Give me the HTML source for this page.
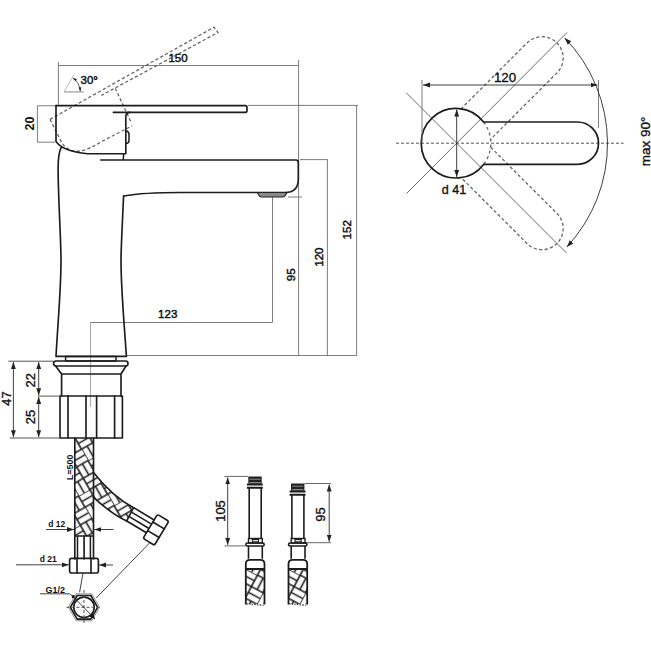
<!DOCTYPE html>
<html><head><meta charset="utf-8">
<style>
html,body{margin:0;padding:0;background:#fff;width:651px;height:651px;overflow:hidden}
svg{display:block}
.k{stroke:#1c1c1c;stroke-width:1.65;fill:none;stroke-linejoin:round;stroke-linecap:round}
.m{stroke:#1c1c1c;stroke-width:1.5;fill:none;stroke-linejoin:round}
.t{stroke:#6e6e6e;stroke-width:0.9;fill:none}
.c{stroke:#2a2a2a;stroke-width:0.9;fill:none}
.d{stroke:#666;stroke-width:1.3;stroke-dasharray:3.2 2.3;fill:none}
.cl{stroke:#555;stroke-width:1;stroke-dasharray:3 2;fill:none}
text{font-family:"Liberation Sans",sans-serif;fill:#111}
.n{font-size:11.5px;stroke:#111;stroke-width:0.45}
.b{font-size:12px;font-weight:bold}
.s{stroke:#111;stroke-width:0.35}
</style></head>
<body>
<svg width="651" height="651" viewBox="0 0 651 651">
<defs>
  <marker id="ar" viewBox="0 0 10 10" refX="10" refY="5" markerWidth="7" markerHeight="7" orient="auto-start-reverse" markerUnits="userSpaceOnUse">
    <path d="M0,1.5 L10,5 L0,8.5 Z" fill="#222"/>
  </marker>
  <marker id="arm" viewBox="0 0 10 10" refX="10" refY="5" markerWidth="5.5" markerHeight="5.5" orient="auto-start-reverse" markerUnits="userSpaceOnUse"><path d="M0,1 L10,5 L0,9 Z" fill="#111"/></marker>
  <marker id="ars" viewBox="0 0 10 10" refX="10" refY="5" markerWidth="4" markerHeight="4" orient="auto-start-reverse" markerUnits="userSpaceOnUse"><path d="M0,1.5 L10,5 L0,8.5 Z" fill="#222"/></marker>
  <pattern id="weave" width="26" height="26" patternUnits="userSpaceOnUse" patternTransform="translate(75,438) rotate(-30)">
    <path d="M0,0 H13 M0,6.5 H13 M0,13 H13 M13,13 H26 M13,19.5 H26 M13,26 H26 M13,0 V13 M19.5,0 V13 M26,0 V13 M0,13 V26 M6.5,13 V26 M13,13 V26 M0,0 V13 M13,0 H26" stroke="#1c1c1c" stroke-width="1.6" fill="none"/>
  </pattern>
  <pattern id="weave2" width="26" height="26" patternUnits="userSpaceOnUse" patternTransform="translate(246,569) rotate(28)">
    <path d="M0,0 H13 M0,6.5 H13 M0,13 H13 M13,13 H26 M13,19.5 H26 M13,26 H26 M13,0 V13 M19.5,0 V13 M26,0 V13 M0,13 V26 M6.5,13 V26 M13,13 V26 M0,0 V13 M13,0 H26" stroke="#1c1c1c" stroke-width="1.6" fill="none"/>
  </pattern>
</defs>

<!-- ===== SIDE VIEW ===== -->
<!-- dimension lines top -->
<path class="t" d="M58.4,62 V104.6 M58.4,65.5 H298.6 M298.6,60 V355.6 M248,105.4 H358 M356.6,105.4 V355.6 M300,159.6 H328 M327.4,159.6 V355.6 M288,197 H302 M272.5,192.5 V322.5 H90.5 M126.4,355.5 H357"/>
<path d="M90.5,322.5 V407" stroke="#aaa" stroke-width="1" fill="none"/>
<text class="n" x="178" y="62.3" text-anchor="middle">150</text>
<text class="n" transform="translate(295,274.8) rotate(-90)" text-anchor="middle">95</text>
<text class="n" transform="translate(322.6,257.1) rotate(-90)" text-anchor="middle">120</text>
<text class="n" transform="translate(351.2,229.8) rotate(-90)" text-anchor="middle">152</text>
<text class="n" x="167.7" y="318" text-anchor="middle">123</text>

<!-- 20 dim -->
<path class="t" d="M37.4,105.8 H55 M37.4,142.2 H55 M37.4,105.8 V142.2"/>
<text class="n" transform="translate(34.4,123.6) rotate(-90)" text-anchor="middle" style="font-size:12.5px;font-weight:bold;stroke-width:0">20</text>

<!-- 30 deg symbol -->
<path d="M64.1,91.9 H83.8" stroke="#aaa" stroke-width="1.4" fill="none"/>
<path d="M64.1,91.9 L73.8,75" stroke="#aaa" stroke-width="0.8" fill="none"/>
<path d="M72.8,78.1 Q79.5,82 80.3,91.3" stroke="#333" stroke-width="0.8" fill="none" marker-start="url(#ars)" marker-end="url(#ars)"/>
<text class="n" x="80.5" y="84.3">30°</text>

<!-- rotated handle dashed -->
<path class="d" d="M50,119.4 L214,27.2 L218,32.5 L101.4,95.4 M50,119.4 L62,143 Q68,152 80,151.2 Q90,149 101.4,141.6 L132.2,125.8 M115.3,88.4 L131.2,122.5"/>

<!-- handle solid -->
<path class="k" d="M56,105.6 H245.5 Q247,105.6 247,107.5 V110.5 Q247,112.4 245.5,112.4 H113.4"/>
<path class="k" d="M56,105.6 V141.4 C60,148 70,152 87.6,153.7 H125.8 V117 Q125.8,112.4 130,112.4"/>
<path class="m" d="M125.8,131 Q129,131.2 129,134.5 V140.5 Q129,143.5 125.8,143.5"/>
<path class="m" d="M123.7,153.7 L123.2,160"/>

<!-- body -->
<path class="k" d="M100.7,160 H296 Q298.3,160 298.3,162.5 V179 Q298.3,192.5 285,192.5 H180 C160,192.5 135,194 123.6,196"/>
<path class="k" d="M61.5,146.8 C58.5,152 58,160 58.1,170 C58.3,200 61,240 61,260 C61,290 58,320 56,356.4 H126.4 C124,320 121,290 121,260 C121,250 122,230 123.6,196"/>
<path d="M257.4,192.5 H286.9 L285,195.8 Q284,197 282,197 H262 Q260,197 259.2,195.8 Z" fill="#8a8a8a" stroke="#222" stroke-width="1.2"/>

<!-- base -->
<rect class="m" x="65.6" y="356.4" width="50.4" height="4.6"/>
<rect class="k" x="53.6" y="361" width="74.4" height="5" rx="2.5"/>
<path class="k" d="M55.6,366 L61.6,374 H121 L126,366 M61.6,374 V396 M121,374 V396"/>
<rect class="k" x="60" y="396" width="62.4" height="42"/>
<path class="k" d="M68,396 V438 M86,396 V438 M96.6,396 V438 M114.6,396 V438"/>

<!-- left dims -->
<path d="M8.3,361.2 H53.6 M38,396.1 H60 M9.7,438 H60" stroke="#555" stroke-width="1" fill="none"/>
<path class="c" d="M13.4,362 V437.2" marker-start="url(#ar)" marker-end="url(#ar)"/>
<path class="c" d="M38.7,362 V395.3" marker-start="url(#ar)" marker-end="url(#ar)"/>
<path class="c" d="M38.7,396.9 V437.2" marker-start="url(#ar)" marker-end="url(#ar)"/>
<text class="s" transform="translate(10.6,398.6) rotate(-90)" text-anchor="middle" style="font-size:13px">47</text>
<text class="s" transform="translate(35.3,380.2) rotate(-90)" text-anchor="middle" style="font-size:13px">22</text>
<text class="s" transform="translate(35.3,416.9) rotate(-90)" text-anchor="middle" style="font-size:13px">25</text>

<!-- straight hose -->
<rect x="74.8" y="438" width="18.7" height="98" fill="url(#weave)"/>
<path class="k" d="M74.8,438 V559 M93.5,438 V559 M74.8,536 H93.5"/>
<path class="m" d="M77.5,536 V559 M90.4,536 V559"/><path class="k" d="M84.1,536 V559"/>
<rect class="k" x="69.6" y="558.4" width="28.8" height="14.6" rx="2"/>
<path class="k" d="M77,558.4 V573 M91,558.4 V573"/>
<text class="b" transform="translate(72.6,479.9) rotate(-90)" style="font-size:9.5px" textLength="25.2" lengthAdjust="spacingAndGlyphs">L=500</text>

<!-- bent hose -->
<clipPath id="bentclip"><path d="M93.5,472.4 Q112,496 133.6,507.7 L126.7,520.9 Q112.1,514.5 93.5,497.3 Z"/></clipPath>
<rect x="90" y="465" width="50" height="60" fill="url(#weave)" clip-path="url(#bentclip)"/>
<path class="k" d="M93.5,472.4 Q112,496 133.6,507.7 M93.5,497.3 Q112.1,514.5 126.7,520.9 M133.6,507.7 L126.7,520.9"/>
<g transform="translate(130.2,514.3) rotate(31)">
  <path class="k" d="M0,-7.5 H23.4 M0,7.5 H23.4"/>
  <path class="m" d="M0,-2.5 H23.4 M0,2.5 H23.4"/>
  <rect class="k" x="23.4" y="-14" width="13.3" height="28" rx="2"/>
  <path class="k" d="M23.4,-5 H36.7 M23.4,5 H36.7"/>
</g>

<!-- d12, d21 -->
<text class="b" x="48.3" y="527.2" style="font-size:9.8px" textLength="17" lengthAdjust="spacingAndGlyphs">d 12</text>
<path class="c" d="M46,529.5 H74" marker-end="url(#ar)"/>
<path class="c" d="M113.5,529.5 H94.3" marker-end="url(#ar)"/>
<text class="b" x="39.8" y="561.8" style="font-size:9.8px" textLength="17" lengthAdjust="spacingAndGlyphs">d 21</text>
<path class="c" d="M16,564.8 H68.8" marker-end="url(#ar)"/>
<path class="c" d="M113,565 H99.2" marker-end="url(#ar)"/>

<!-- G1/2 hex -->
<text class="b" x="45.6" y="593" style="font-size:9.5px" textLength="19.4" lengthAdjust="spacingAndGlyphs">G1/2</text>
<path class="c" d="M40,593.8 H69.6 L73,596.5"/>
<circle cx="73.5" cy="596.8" r="1.8" fill="#111"/>
<path class="c" d="M83,573 L79.6,592.3"/>
<path class="c" d="M149.5,543 L96.2,598"/>
<path d="M99.6,607.3 L91.8,620.8 L76.2,620.8 L68.4,607.3 L76.2,593.8 L91.8,593.8 Z" stroke="#888" stroke-width="0.9" fill="none"/>
<path class="k" d="M97.6,607.3 L90.8,619.1 L77.2,619.1 L70.4,607.3 L77.2,595.5 L90.8,595.5 Z"/>
<circle class="k" cx="84" cy="607.3" r="10.2"/>
<path class="cl" d="M84,590 V624.6 M66.5,607.3 H101.5"/>
<path class="c" d="M73,596.5 L95,618.9" marker-end="url(#arm)"/>

<!-- fittings -->
<g transform="translate(0,0)">
  <rect x="248.3" y="476.5" width="13.4" height="7.3" fill="#222"/>
  <path d="M249.5,479.3 H260.5 M249.5,482.6 H260.5" stroke="#8a8a8a" stroke-width="1.1"/>
  <path d="M246.9,484.4 H262.8 M246.9,487.7 H262.8" stroke="#1c1c1c" stroke-width="2"/>
  <path d="M249.2,487.7 V538.5 M261.2,487.7 V538.5" stroke="#1c1c1c" stroke-width="1.6" fill="none"/>
  <rect x="248.5" y="538.5" width="13.8" height="4.5" stroke="#1c1c1c" stroke-width="1.4" fill="none"/>
  <rect x="252.3" y="539.6" width="6.2" height="2.3" stroke="#1c1c1c" stroke-width="1.1" fill="none"/>
  <rect x="245.8" y="543" width="18.4" height="3" rx="1.5" stroke="#1c1c1c" stroke-width="1.6" fill="none"/>
  <path d="M248.5,546 V558.8 M262.3,546 V558.8" stroke="#1c1c1c" stroke-width="1.6" fill="none"/>
  <rect x="245.8" y="569" width="18.7" height="35" fill="url(#weave2)"/>
  <path d="M245.8,604.5 V564 Q245.8,559.8 250,559.8 H260.3 Q264.5,559.8 264.5,564 V604.5 M245.8,569 H264.5" stroke="#1c1c1c" stroke-width="1.8" fill="none"/>
  <path d="M246.5,603.8 Q254,604.5 263.5,605.3" stroke="#333" stroke-width="1.2" stroke-dasharray="1.5 1.2" fill="none"/>
</g>
<path d="M224.5,476.4 H248 M224.5,545.9 H245 M304.5,483.5 H331 M303,542.7 H331" stroke="#555" stroke-width="0.9" fill="none"/>
<path class="c" d="M227.7,477.4 V544.9" marker-start="url(#ar)" marker-end="url(#ar)"/>
<path class="c" d="M329.2,484.5 V541.7" marker-start="url(#ar)" marker-end="url(#ar)"/>
<text class="s" transform="translate(224.8,511) rotate(-90)" text-anchor="middle" style="font-size:13px">105</text>
<text class="s" transform="translate(325,514.6) rotate(-90)" text-anchor="middle" style="font-size:13px">95</text>
<g transform="translate(42.7,0)">
  <rect x="248.3" y="483.5" width="13.4" height="7.3" fill="#222"/>
  <path d="M249.5,486.3 H260.5 M249.5,489.6 H260.5" stroke="#8a8a8a" stroke-width="1.1"/>
  <path d="M246.9,491.4 H262.8 M246.9,494.7 H262.8" stroke="#1c1c1c" stroke-width="2"/>
  <path d="M249.2,494.7 V538.5 M261.2,494.7 V538.5" stroke="#1c1c1c" stroke-width="1.6" fill="none"/>
  <rect x="248.5" y="538.5" width="13.8" height="4.5" stroke="#1c1c1c" stroke-width="1.4" fill="none"/>
  <rect x="252.3" y="539.6" width="6.2" height="2.3" stroke="#1c1c1c" stroke-width="1.1" fill="none"/>
  <rect x="245.8" y="543" width="18.4" height="3" rx="1.5" stroke="#1c1c1c" stroke-width="1.6" fill="none"/>
  <path d="M248.5,546 V558.8 M262.3,546 V558.8" stroke="#1c1c1c" stroke-width="1.6" fill="none"/>
  <rect x="245.8" y="569" width="18.7" height="35" fill="url(#weave2)"/>
  <path d="M245.8,604.5 V564 Q245.8,559.8 250,559.8 H260.3 Q264.5,559.8 264.5,564 V604.5 M245.8,569 H264.5" stroke="#1c1c1c" stroke-width="1.8" fill="none"/>
  <path d="M246.5,603.8 Q254,604.5 263.5,605.3" stroke="#333" stroke-width="1.2" stroke-dasharray="1.5 1.2" fill="none"/>
</g>

<!-- ===== TOP VIEW ===== -->
<path class="cl" d="M396,143.2 H623.6"/>
<path d="M406.5,93 L566.5,253 M406.5,193.5 L567,32.5" stroke="#444" stroke-width="0.8" fill="none"/>
<!-- dashed handles -->
<g transform="rotate(-45 456.7 143.2)"><path class="d" d="M483.6,122 H577.3 A21.2,21.2 0 0 1 577.3,164.4 H483.6"/></g>
<g transform="rotate(45 456.7 143.2)"><path class="d" d="M483.6,122 H577.3 A21.2,21.2 0 0 1 577.3,164.4 H483.6"/></g>
<path class="d" d="M483.6,122 A34.8,34.8 0 0 1 483.6,164.4" style="stroke-dasharray:3 3"/>
<!-- solid handle -->
<path class="k" style="stroke-width:1.7" d="M483.6,122 H577.3 A21.2,21.2 0 0 1 577.3,164.4 H483.6 A34.8,34.8 0 1 1 483.6,122 Z"/>
<!-- dims -->
<path class="t" d="M422,80 V143 M598.5,80 V128"/>
<path class="c" d="M423,85 H597.5" marker-start="url(#ar)" marker-end="url(#ar)"/>
<text class="s" x="505" y="81.5" text-anchor="middle" style="font-size:13.3px">120</text>
<path class="c" d="M456.7,109.5 V177" marker-start="url(#ar)" marker-end="url(#ar)"/>
<text class="s" x="454" y="194" text-anchor="middle" style="font-size:12.5px">d 41</text>
<path class="c" d="M564.7,37.9 A151.8,151.8 0 0 1 566.9,246.9" marker-start="url(#ar)" marker-end="url(#ar)"/>
<text class="s" transform="translate(649.5,141.4) rotate(-90)" text-anchor="middle" style="font-size:13.5px">max 90°</text>
</svg>
</body></html>
